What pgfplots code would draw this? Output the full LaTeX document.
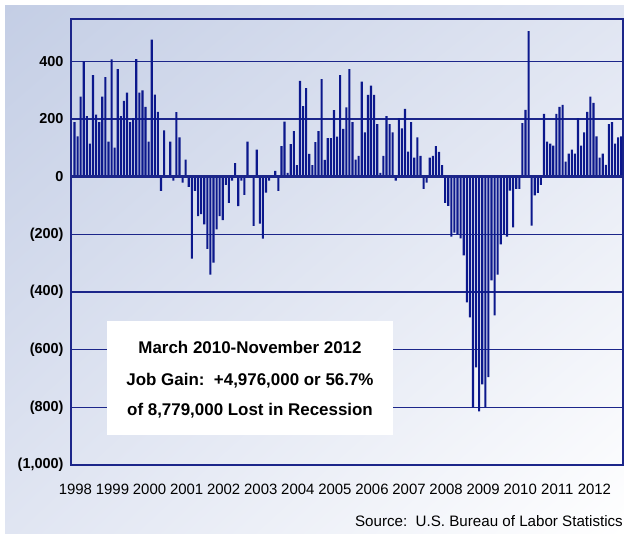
\documentclass[border=0pt]{standalone}
\usepackage{pgfplots}
\pgfplotsset{compat=1.18}
\usetikzlibrary{shadings}
\usepackage{fontspec}
\setmainfont{Liberation Sans}
\definecolor{barblue}{RGB}{12,24,140}
\definecolor{gridblue}{RGB}{28,38,138}
\definecolor{bgA}{RGB}{196,206,229}
\definecolor{bgB}{RGB}{224,229,242}
\begin{document}
\begin{tikzpicture}[x=1bp,y=1bp]
\useasboundingbox (0,0) rectangle (624,534);
\clip (0,0) rectangle (624,534);
\fill[white] (0,0) rectangle (624,534);
\shade[upper left=bgA, upper right=bgB, lower left=bgB, lower right=white] (5,0) rectangle (624,528);
\begin{axis}[
  at={(71bp,69bp)}, anchor=south west,
  scale only axis, width=552bp, height=446bp,
  xmin=-0.13, xmax=178.57, ymin=-1000, ymax=547,
  axis line style={draw=gridblue, line width=2.7bp},
  ytick={-1000,-800,-600,-400,-200,0,200,400},
  yticklabels={{(1,000)},{(800)},{(600)},{(400)},{(200)},0,200,400},
  xtick={1.3,13.3,25.3,37.3,49.3,61.3,73.3,85.3,97.3,109.3,121.3,133.3,145.3,157.3,169.3},
  xticklabels={1998,1999,2000,2001,2002,2003,2004,2005,2006,2007,2008,2009,2010,2011,2012},
  ymajorgrids, grid style={draw=gridblue, line width=1.4bp},
  major tick length=0pt, tick style={draw=none},
  yticklabel style={font=\bfseries\fontsize{14.5}{15}\selectfont, xshift=-4bp},
  xticklabel style={font=\fontsize{15}{15}\selectfont, yshift=-16bp},
]
\addplot[ybar, bar width=2.1bp, fill=barblue, draw=none] coordinates {
(1,189)(2,140)(3,278)(4,400)(5,210)(6,115)(7,352)(8,215)(9,189)(10,278)
(11,345)(12,122)(13,407)(14,101)(15,373)(16,210)(17,263)(18,292)(19,189)(20,203)
(21,408)(22,292)(23,299)(24,242)(25,122)(26,475)(27,285)(28,225)(29,-49)(30,161)
(31,2)(32,122)(33,-14)(34,224)(35,136)(36,-21)(37,59)(38,-35)(39,-284)(40,-49)
(41,-137)(42,-130)(43,-165)(44,-250)(45,-340)(46,-298)(47,-183)(48,-137)(49,-151)(50,-28)
(51,-91)(52,-14)(53,47)(54,-102)(55,-14)(56,-63)(57,122)(58,5)(59,-171)(60,94)
(61,-163)(62,-215)(63,-55)(64,-14)(65,2)(66,20)(67,-49)(68,106)(69,191)(70,13)
(71,113)(72,158)(73,40)(74,332)(75,245)(76,307)(77,79)(78,40)(79,120)(80,158)
(81,338)(82,58)(83,134)(84,134)(85,231)(86,139)(87,352)(88,166)(89,240)(90,373)
(91,189)(92,59)(93,72)(94,330)(95,154)(96,284)(97,316)(98,284)(99,182)(100,13)
(101,72)(102,210)(103,182)(104,154)(105,-14)(106,203)(107,168)(108,235)(109,87)(110,189)
(111,66)(112,136)(113,72)(114,-42)(115,-21)(116,66)(117,72)(118,106)(119,86)(120,40)
(121,-91)(122,-101)(123,-208)(124,-194)(125,-201)(126,-214)(127,-273)(128,-436)(129,-488)(130,-800)
(131,-661)(132,-814)(133,-720)(134,-800)(135,-695)(136,-360)(137,-481)(138,-340)(139,-235)(140,-201)
(141,-208)(142,-48)(143,-176)(144,-42)(145,-42)(146,186)(147,232)(148,505)(149,-170)(150,-65)
(151,-56)(152,-28)(153,218)(154,122)(155,115)(156,108)(157,218)(158,242)(159,249)(160,52)
(161,80)(162,94)(163,80)(164,203)(165,108)(166,154)(167,225)(168,278)(169,256)(170,140)
(171,66)(172,80)(173,41)(174,182)(175,189)(176,115)(177,136)(178,140)
};
\draw[gridblue, line width=3bp] (-0.13,0) -- (178.57,0);
\end{axis}
\fill[white] (107,99) rectangle (393,213);
\node[anchor=base, font=\bfseries\fontsize{17}{20}\selectfont] at (250,180) {March 2010-November 2012};
\node[anchor=base, font=\bfseries\fontsize{17}{20}\selectfont] at (250,148) {Job Gain:\ \ +4,976,000 or 56.7\%};
\node[anchor=base, font=\bfseries\fontsize{17}{20}\selectfont] at (250,118) {of 8,779,000 Lost in Recession};
\node[anchor=base east, inner sep=1bp, font=\fontsize{15.2}{18}\selectfont] at (624,7) {Source:\ \ U.S. Bureau of Labor Statistics};
\end{tikzpicture}
\end{document}
